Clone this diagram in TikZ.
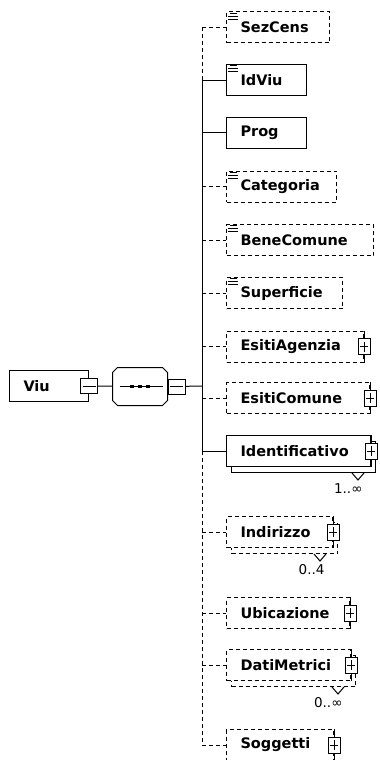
\documentclass[tikz,border=0pt]{standalone}
\usepackage{fontspec}
\setmainfont{DejaVu Sans}
\usetikzlibrary{shapes.misc}

\newcommand\elfont{\bfseries\fontsize{14.5}{17}\selectfont}
% three small lines of a simple type
\newcommand\elicon[1]{%
	\draw[solid,line width=.8pt] ([shift={(4,1.5)}]#1.north west) -- ++(7,0)
		([shift={(2,4.5)}]#1.north west) -- ++(10,0)
		([shift={(2,7.5)}]#1.north west) -- ++(10,0);}
% solid right edge and plus box
\newcommand\expander[1]{%
	\draw[solid] (#1.north east) -- (#1.south east);
	\node[plusbox] (#1-plus) at (#1.east) {};}
% notch under the shadow and the occurrence range
\newcommand\occurs[2]{%
	\coordinate (#1-n) at ([shift={(-13,6)}]#1.south east);
	\draw[solid] ([shift={(-6,0)}]#1-n) -- ([shift={(0,7)}]#1-n) -- ([shift={(6,0)}]#1-n);
	\node[occ, anchor=east] (#1-occ) at ([shift={(5,16)}]#1-n) {#2};}

\begin{document}
\begin{tikzpicture}
	[x=1pt, y=-1pt, line width=1pt,
	elem/.style={draw, fill=white, anchor=west, minimum height=31, inner ysep=0, inner xsep=14pt,
		text width=#1, align=left, font=\elfont},
	opt/.style={dash pattern=on 4pt off 3pt},
	plusbox/.style={draw, solid, fill=white, minimum width=12, minimum height=16, inner sep=0,
		path picture={\draw[line width=.8pt] ([xshift=2]path picture bounding box.west) -- ([xshift=-2]path picture bounding box.east)
			([yshift=-3]path picture bounding box.north) -- ([yshift=3]path picture bounding box.south);}},
	minusbox/.style={draw, fill=white, minimum width=17, minimum height=15, inner sep=0,
		path picture={\draw[line width=.8pt] ([xshift=2]path picture bounding box.west) -- ([xshift=-2]path picture bounding box.east);}},
	seqbox/.style={minimum width=54, minimum height=37, inner sep=0},
	occ/.style={font=\fontsize{13.5}{15}\selectfont, inner sep=0}]
	\useasboundingbox (0,0) rectangle (380,760);

	\node[elem=51pt] (viu) at (9,386) {Viu};
	\node[minusbox] (viu-minus) at (viu.east) {};
	\node[seqbox] (seq) at (140,386.5) {};
	\draw ([shift={(5,0)}]seq.north west) -- ([shift={(-5,0)}]seq.north east) -- ([shift={(0,5)}]seq.north east)
		-- ([shift={(0,-5)}]seq.south east) -- ([shift={(-5,0)}]seq.south east) -- ([shift={(5,0)}]seq.south west)
		-- ([shift={(0,-5)}]seq.south west) -- ([shift={(0,5)}]seq.north west) -- cycle;
	\draw ([xshift=7]seq.west) -- ([xshift=-5]seq.east);
	\foreach \dx in {-8,0,8}
		{\fill ([shift={(\dx-1.8,-1.8)}]seq.center) rectangle ++(3.6,3.6);}
	\node[minusbox, anchor=west] (seq-minus) at (seq.east) {};
	\coordinate (bus) at (202,386);
	\draw (viu-minus) -- (seq);
	\draw (seq-minus) -- (bus);

	\node[elem=75pt, opt] (sezcens) at (226,27.5) {SezCens};
	\node[elem=52pt] (idviu) at (226,80) {IdViu};
	\node[elem=52pt] (prog) at (226,132.5) {Prog};
	\node[elem=82pt, opt] (categoria) at (226,186.5) {Categoria};
	\node[elem=119pt, opt] (benecomune) at (226,240) {BeneComune};
	\node[elem=88pt, opt] (superficie) at (226,293) {Superficie};
	\node[elem=109pt, opt] (esitiagenzia) at (226,346.5) {EsitiAgenzia};
	\node[elem=115pt, opt] (esiticomune) at (226,398) {EsitiComune};
	\node[elem=116pt] (identificativo-sh) at (231,457) {};
	\node[elem=116pt] (identificativo) at (226,451) {Identificativo};
	\node[elem=78pt, opt] (indirizzo-sh) at (231,538) {};
	\node[elem=78pt, opt] (indirizzo) at (226,532) {Indirizzo};
	\node[elem=95pt, opt] (ubicazione) at (226,613) {Ubicazione};
	\node[elem=96pt, opt] (datimetrici-sh) at (231,671) {};
	\node[elem=96pt, opt] (datimetrici) at (226,665) {DatiMetrici};
	\node[elem=79pt, opt] (soggetti) at (226,745) {Soggetti};

	\foreach \n in {sezcens,idviu,categoria,benecomune,superficie}
		{\elicon{\n}}
	\foreach \n in {esitiagenzia,esiticomune,identificativo,indirizzo,ubicazione,datimetrici,soggetti}
		{\expander{\n}}
	\occurs{identificativo}{1..∞}
	\occurs{indirizzo}{0..4}
	\occurs{datimetrici}{0..∞}

	\draw[opt] (bus |- sezcens.west) -- (bus |- idviu.west);
	\draw (bus |- idviu.west) -- (bus |- identificativo.west);
	\draw[opt] (bus |- identificativo.west) -- (bus |- soggetti.west);
	\foreach \n in {idviu,prog,identificativo}
		{\draw (bus |- \n.west) -- (\n.west);}
	\foreach \n in {sezcens,categoria,benecomune,superficie,esitiagenzia,esiticomune,indirizzo,ubicazione,datimetrici,soggetti}
		{\draw[opt] (bus |- \n.west) -- (\n.west);}
\end{tikzpicture}
\end{document}
